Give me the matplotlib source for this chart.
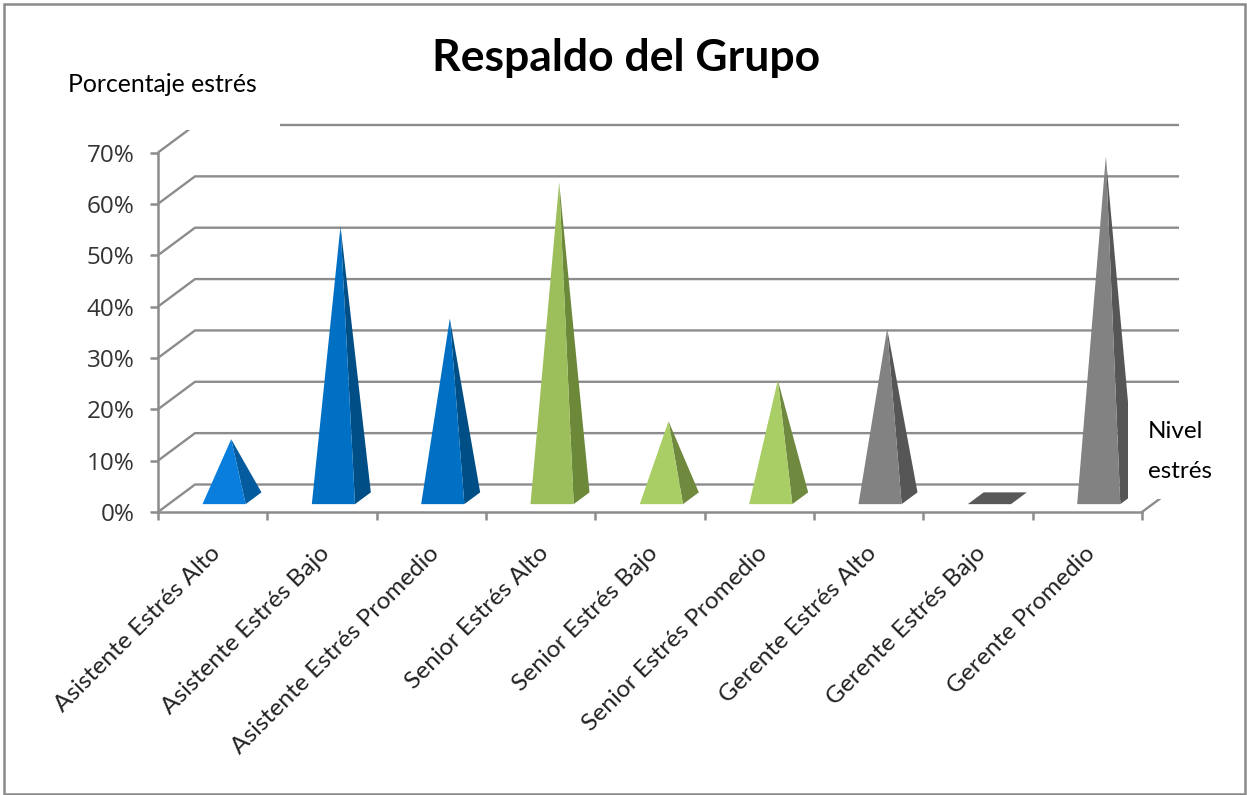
"""Pyramid chart of stress level percentages by job category."""

import matplotlib
matplotlib.use("Agg")
import matplotlib.pyplot as plt
from matplotlib.patches import Polygon, Rectangle
from matplotlib.ticker import PercentFormatter
from matplotlib.transforms import ScaledTranslation

WIDTH, HEIGHT = 1247, 795

CATEGORIES = [
    "Asistente Estrés Alto",
    "Asistente Estrés Bajo",
    "Asistente Estrés Promedio",
    "Senior Estrés Alto",
    "Senior Estrés Bajo",
    "Senior Estrés Promedio",
    "Gerente Estrés Alto",
    "Gerente Estrés Bajo",
    "Gerente Promedio",
]
VALUES = [0.115, 0.53, 0.35, 0.615, 0.15, 0.23, 0.33, 0.0, 0.665]
FRONT_COLORS = ["#0A7EDC", "#0070C4", "#0070C4", "#9DBF5B", "#A9CE66", "#A9CE66",
                "#828282", "#595959", "#828282"]
SIDE_COLORS = ["#045C9E", "#004E86", "#004E86", "#6C8839", "#6F8A3F", "#6F8A3F",
               "#565656", "#595959", "#565656"]
Y_TICKS = [0, 0.1, 0.2, 0.3, 0.4, 0.5, 0.6, 0.7]

GRID = "#8C8C8C"
# how far the back wall sits from the front plane, in data units
DEPTH_X = 37 / 109.3
DEPTH_Y = 27.5 / 513.6
BAR_WIDTH = 0.395


def project(x, depth, value):
    return x + depth * DEPTH_X, value + depth * DEPTH_Y


def fig_rect(fig, x0, y0, x1, y1, **kwargs):
    """Rectangle given in pixels from the top left corner of the figure."""
    return Rectangle((x0 / WIDTH, 1 - y1 / HEIGHT), (x1 - x0) / WIDTH, (y1 - y0) / HEIGHT,
                     transform=fig.transFigure, clip_on=False, **kwargs)


def fig_text(fig, x, y, text, **kwargs):
    fig.text(x / WIDTH, 1 - y / HEIGHT, text, **kwargs)


def draw_pyramid(ax, index, value, front, side):
    left = index + 0.31
    right = left + BAR_WIDTH
    near, far = 0.286, 0.714
    if value == 0:
        base = [project(left, near, 0), project(right, near, 0),
                project(right, far, 0), project(left, far, 0)]
        ax.add_patch(Polygon(base, color=side, lw=0, zorder=4, clip_on=False))
        return
    apex = project(index + 0.5, 0.5, value)
    ax.add_patch(Polygon([project(right, near, 0), project(right, far, 0), apex],
                         color=side, lw=0, zorder=4, clip_on=False))
    ax.add_patch(Polygon([project(left, near, 0), project(right, near, 0), apex],
                         color=front, lw=0, zorder=5, clip_on=False))


def main():
    plt.rcParams["font.family"] = ["Lato", "DejaVu Sans"]
    fig = plt.figure(figsize=(WIDTH / 100, HEIGHT / 100), dpi=100)
    ax = fig.add_axes([158 / WIDTH, 1 - 512 / HEIGHT, 984 / WIDTH, 359.5 / HEIGHT])
    ax.set_xlim(0, len(CATEGORIES))
    ax.set_ylim(0, 0.7)

    for tick in Y_TICKS:
        xs, ys = zip(project(0, 0, tick), project(0, 1, tick), project(len(CATEGORIES), 1, tick))
        ax.plot(xs, ys, color=GRID, lw=1.7, clip_on=False, zorder=1, solid_capstyle="butt")
    xs, ys = zip(project(len(CATEGORIES), 0, 0), project(len(CATEGORIES), 1, 0))
    ax.plot(xs, ys, color=GRID, lw=1.7, clip_on=False, zorder=1)

    # text boxes sit over the ends of the wall lines
    ax.add_artist(fig_rect(fig, 60, 50, 280, 130, fc="white", ec="none", zorder=6))
    ax.add_artist(fig_rect(fig, 1128, 400, 1225, 499, fc="white", ec="none", zorder=6))

    for i, value in enumerate(VALUES):
        draw_pyramid(ax, i, value, FRONT_COLORS[i], SIDE_COLORS[i])

    for name in ("top", "right"):
        ax.spines[name].set_visible(False)
    for name in ("left", "bottom"):
        ax.spines[name].set_color(GRID)
        ax.spines[name].set_linewidth(1.8)

    ax.set_yticks(Y_TICKS)
    ax.yaxis.set_major_formatter(PercentFormatter(1.0, decimals=0))
    ax.tick_params(axis="y", length=6, width=1.8, color=GRID, labelsize=17.5,
                   labelcolor="#333333", pad=11)
    for label in ax.get_yticklabels():
        label.set_fontfamily(["Open Sans", "DejaVu Sans"])
    ax.set_xticks(range(len(CATEGORIES) + 1))
    ax.set_xticklabels([])
    ax.tick_params(axis="x", length=6, width=1.8, color=GRID)
    ax.set_xticks([i + 0.5 for i in range(len(CATEGORIES))], minor=True)
    ax.set_xticklabels(CATEGORIES, minor=True, rotation=45, ha="right", va="top",
                       rotation_mode="anchor", fontsize=17.6, color="#222222")
    ax.tick_params(axis="x", which="minor", length=0, pad=22)
    shift = ScaledTranslation(-3 / 100, 0, fig.dpi_scale_trans)
    for label in ax.get_xticklabels(minor=True):
        label.set_transform(label.get_transform() + shift)

    fig_text(fig, 626, 58, "Respaldo del Grupo", fontsize=32, fontweight="bold",
             ha="center", va="center", color="black", zorder=8)
    fig_text(fig, 68, 85, "Porcentaje estrés", fontsize=17.8, ha="left", va="center",
             color="black", zorder=8)
    fig_text(fig, 1148, 431, "Nivel", fontsize=17.5, ha="left", va="center", color="black", zorder=8)
    fig_text(fig, 1148, 471, "estrés", fontsize=17.5, ha="left", va="center", color="black", zorder=8)

    # outer frame of the chart
    fig.add_artist(fig_rect(fig, 3.5, 4, 1245, 794, fc="none", ec="#8A8A8A", lw=1.8, zorder=7))

    fig.savefig("out.png", dpi=100)


if __name__ == "__main__":
    main()
